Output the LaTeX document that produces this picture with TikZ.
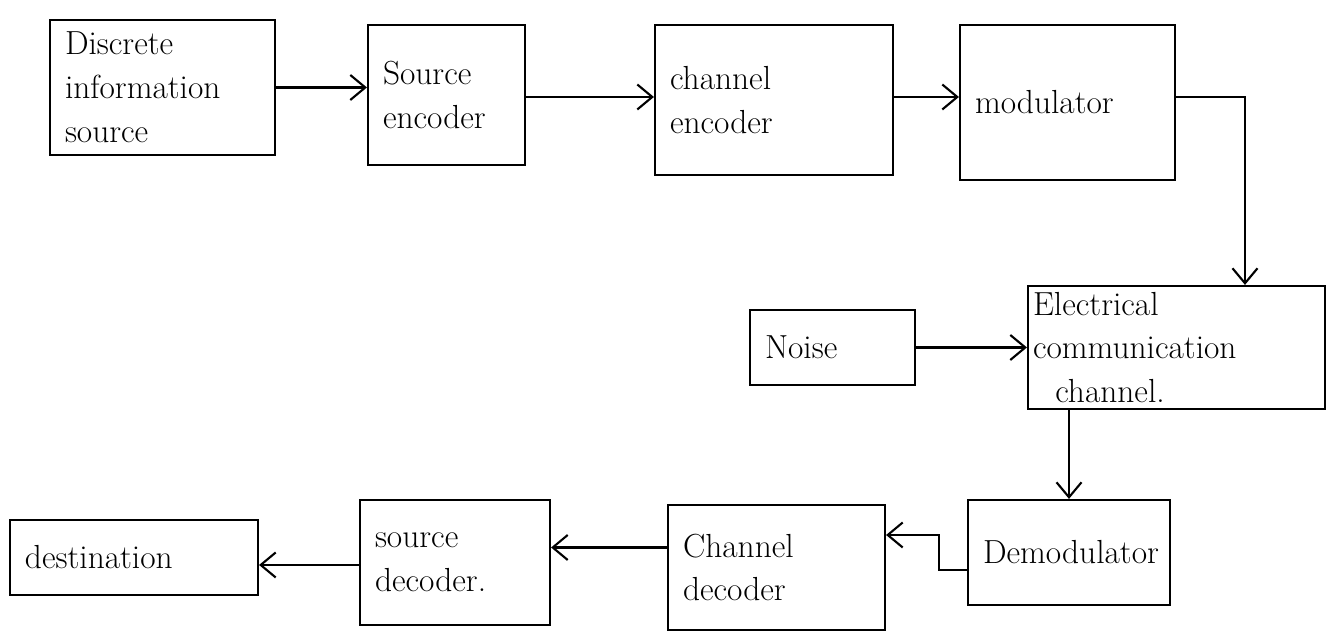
\documentclass[tikz,border=0pt]{standalone}
\usetikzlibrary{arrows.meta}

\tikzset{
  blk/.style 2 args={draw, line width=1.2pt, align=left, inner xsep=0.3cm,
    text width=#1, minimum height=#2, font=\fontsize{19}{25}\selectfont},
  flow/.style={-{Straight Barb[length=3mm,width=5mm]}, line width=1.2pt}
}

\begin{document}
\begin{tikzpicture}
\useasboundingbox (0,0) rectangle (26.66,12.82);
% the blocks of the top row
\node[blk={3.9cm}{2.7cm}] (disc) at (3.25,11.07) {Discrete\\information\\source};
\node[blk={2.54cm}{2.8cm}] (srcenc) at (8.93,10.92) {Source\\encoder};
\node[blk={4.16cm}{3cm}] (chenc) at (15.48,10.82) {channel\\encoder};
\node[blk={3.7cm}{3.1cm}] (mod) at (21.35,10.77) {modulator};
% the channel and the noise
\node[blk={2.7cm}{1.5cm}] (noise) at (16.65,5.87) {Noise};
\node[blk={5.34cm}{2.3cm}, inner xsep=0.1cm, text width=5.74cm] (chan) at (23.53,5.87) {Electrical\\communication\\\ \ channel.};
% the blocks of the bottom row
\node[blk={3.44cm}{2.1cm}] (demod) at (21.38,1.77) {Demodulator};
\node[blk={3.74cm}{2.5cm}] (chdec) at (15.53,1.47) {Channel\\decoder};
\node[blk={3.2cm}{2.5cm}] (srcdec) at (9.1,1.57) {source\\decoder.};
\node[blk={4.36cm}{1.5cm}] (dest) at (2.68,1.67) {destination};
% the arrows
\draw[flow] (disc.east) -- (disc.east -| srcenc.west);
\draw[flow] ([yshift=-0.04cm]srcenc.east) -- ([yshift=-0.04cm]srcenc.east -| chenc.west);
\draw[flow] ([yshift=0.06cm]chenc.east) -- ([yshift=0.06cm]chenc.east -| mod.west);
\draw[flow] ([yshift=0.11cm]mod.east) -| ([xshift=1.37cm]chan.north);
\draw[flow] (noise.east) -- (chan.west);
\draw[flow] (chan.south -| demod.north) -- (demod.north);
\draw[flow] ([yshift=-0.35cm]demod.west) -- ++(-0.56,0) |- ([yshift=0.65cm]chdec.east);
\draw[flow] ([yshift=0.4cm]chdec.west) -- ([yshift=0.4cm]chdec.west -| srcdec.east);
\draw[flow] ([yshift=-0.05cm]srcdec.west) -- ([yshift=-0.05cm]srcdec.west -| dest.east);
\end{tikzpicture}
\end{document}
